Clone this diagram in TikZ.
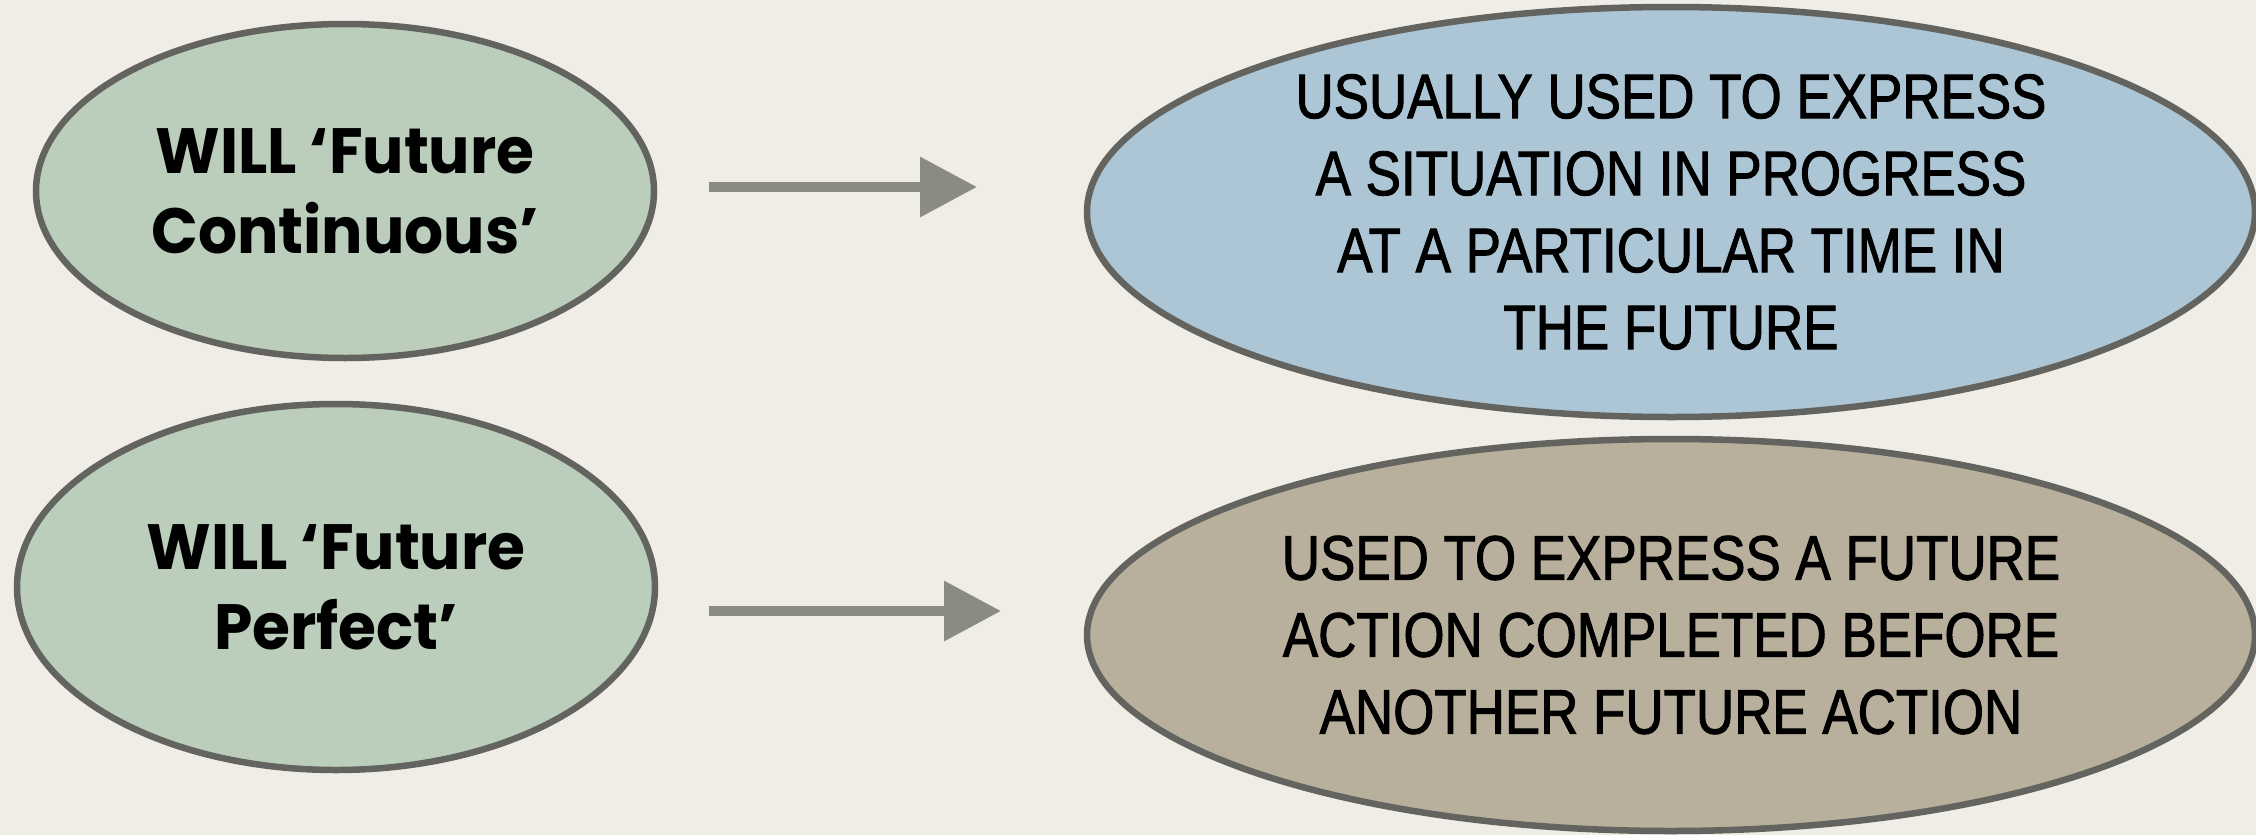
\documentclass[tikz,border=0pt]{standalone}
\usepackage{fontspec}
\usetikzlibrary{shapes.geometric,arrows.meta}
\newfontfamily\leftfont[FakeStretch=0.96]{Poppins}
\newfontfamily\condfont[FakeStretch=0.84,FakeBold=1.5]{Liberation Sans}
\definecolor{bgc}{HTML}{EFEDE6}
\definecolor{greenfill}{HTML}{BACEBB}
\definecolor{bluefill}{HTML}{ADC6D6}
\definecolor{tanfill}{HTML}{B8AF9C}
\definecolor{bordc}{HTML}{63645F}
\definecolor{arrc}{HTML}{8A8B83}
\tikzset{
  ell/.style={ellipse, draw=bordc, line width=6.5pt, inner sep=0pt},
  lefttext/.style={align=center, font=\leftfont\bfseries\fontsize{64}{80}\selectfont},
  righttext/.style={align=center, font=\condfont\fontsize{63}{77}\selectfont},
  bigarrow/.style={draw=arrc, fill=arrc, line width=10pt, -{Triangle[length=57pt,width=58pt]}}
}
\begin{document}
\begin{tikzpicture}[x=1pt,y=-1pt]
\fill[bgc] (0,0) rectangle (2256,835);
\useasboundingbox (0,0) rectangle (2256,835);
\node[ell, fill=greenfill, minimum width=618pt, minimum height=334pt, lefttext] (e1) at (345,191) {WILL ‘Future\\Continuous’};
\node[ell, fill=greenfill, minimum width=638pt, minimum height=366pt, lefttext] (e2) at (336,587) {WILL ‘Future\\Perfect’};
\node[ell, fill=bluefill, minimum width=1168pt, minimum height=410pt, righttext] (e3) at (1671,212) {USUALLY USED TO EXPRESS\\A SITUATION IN PROGRESS\\AT A PARTICULAR TIME IN\\THE FUTURE};
\node[ell, fill=tanfill, minimum width=1168pt, minimum height=392pt, righttext] (e4) at (1671,635) {USED TO EXPRESS A FUTURE\\ACTION COMPLETED BEFORE\\ANOTHER FUTURE ACTION};
\coordinate (a1s) at (709,187);
\coordinate (a1e) at (977,187);
\coordinate (a2s) at (709,611);
\coordinate (a2e) at (1001,611);
\draw[bigarrow] (a1s) -- (a1e);
\draw[bigarrow] (a2s) -- (a2e);
\end{tikzpicture}
\end{document}
